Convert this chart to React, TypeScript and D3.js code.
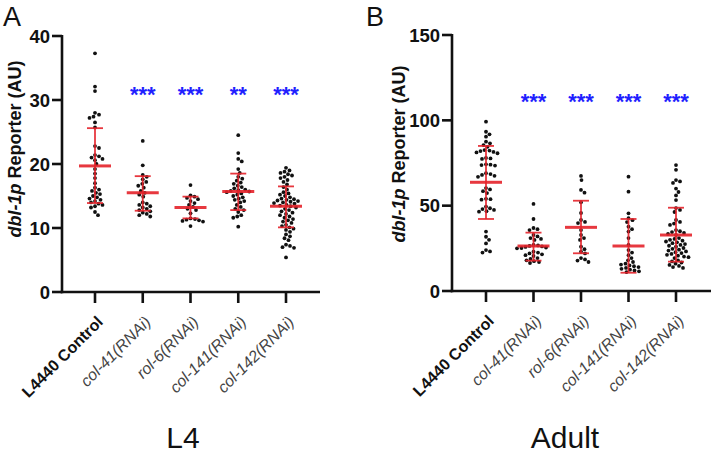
import React from 'react';
import * as d3 from 'd3';

const categories = ['L4440 Control', 'col-41(RNAi)', 'rol-6(RNAi)', 'col-141(RNAi)', 'col-142(RNAi)'];

// L4 panel values (AU)
const l4Control = [37.3, 32.1, 31.4, 28.0, 27.7, 27.4, 27.2, 26.5, 25.7, 22.8, 22.5, 21.4, 21.2, 21.0, 20.8, 20.6, 20.0, 19.2, 18.5, 17.8, 17.0, 16.3, 16.0, 15.8, 15.5, 15.3, 15.0, 14.8, 14.6, 14.4, 14.2, 14.0, 13.8, 13.6, 13.4, 13.2, 12.5, 12.0];
const l4Col41 = [23.6, 19.8, 18.3, 18.0, 17.6, 17.2, 16.9, 16.6, 16.3, 15.8, 15.5, 15.2, 14.9, 14.0, 13.8, 13.6, 13.4, 13.2, 13.0, 12.8, 12.6, 12.4, 12.2, 12.0, 11.8];
const l4Rol6 = [16.7, 15.1, 14.9, 14.7, 14.5, 14.2, 13.9, 13.6, 13.3, 13.0, 12.8, 12.3, 11.5, 11.4, 11.3, 11.2, 11.1, 11.0, 10.3];
const l4Col141 = [24.5, 21.7, 20.8, 20.4, 19.2, 18.6, 18.0, 17.7, 17.4, 17.1, 16.9, 16.6, 16.4, 16.2, 16.0, 15.9, 15.8, 15.7, 15.6, 15.4, 15.2, 15.0, 14.8, 14.6, 14.4, 14.2, 14.0, 13.6, 13.3, 13.0, 12.8, 12.5, 12.0, 11.8, 11.6, 10.2];
const l4Col142 = [19.4, 19.0, 18.8, 18.6, 18.4, 18.2, 18.0, 17.8, 17.5, 17.2, 16.8, 16.4, 16.0, 15.6, 15.4, 15.2, 15.0, 14.8, 14.6, 14.5, 14.4, 14.3, 14.2, 14.1, 14.0, 13.9, 13.8, 13.6, 13.5, 13.4, 13.2, 13.0, 12.8, 12.6, 12.4, 12.2, 12.0, 11.8, 11.6, 11.4, 11.2, 11.0, 10.8, 10.5, 10.3, 10.1, 9.9, 9.7, 9.4, 9.0, 8.7, 8.4, 8.1, 7.4, 7.2, 7.0, 6.9, 5.4];
const l4Means = [19.7, 15.5, 13.2, 15.7, 13.4];
const l4SdHigh = [25.6, 18.1, 14.9, 18.5, 16.5];
const l4SdLow = [13.9, 12.7, 11.5, 12.8, 10.1];
const l4Stars = ['', '***', '***', '**', '***'];
const l4Ticks = [0, 10, 20, 30, 40];

// Adult panel values (AU)
const adultControl = [99.2, 93.3, 91.8, 90.4, 87.5, 86.5, 85.5, 84.5, 82.6, 82.3, 82.0, 81.5, 81.2, 80.7, 78.0, 77.7, 77.4, 74.2, 74.0, 73.8, 73.5, 69.0, 68.5, 68.0, 67.5, 66.9, 60.3, 59.5, 58.5, 57.4, 54.0, 53.8, 53.5, 49.4, 48.5, 48.0, 47.5, 46.8, 46.5, 34.8, 31.8, 30.0, 27.9, 24.0, 23.2, 22.5];
const adultCol41 = [51.0, 42.2, 36.9, 36.2, 35.7, 32.8, 32.0, 31.0, 30.5, 29.9, 27.0, 26.7, 26.4, 26.1, 25.8, 25.5, 25.2, 25.0, 23.0, 22.5, 22.0, 21.5, 21.0, 20.5, 19.3, 18.8, 18.0, 17.5, 17.0, 16.4];
const adultRol6 = [67.4, 65.0, 59.2, 57.6, 52.0, 45.7, 41.6, 40.5, 39.8, 35.7, 32.8, 31.0, 29.9, 26.0, 24.5, 23.0, 22.0, 19.3, 18.5, 17.8, 17.0];
const adultCol141 = [67.0, 58.2, 45.5, 42.7, 41.5, 40.4, 37.7, 36.2, 34.8, 31.0, 27.0, 24.0, 22.5, 21.0, 19.3, 18.0, 17.0, 16.0, 15.5, 15.0, 14.5, 14.0, 13.5, 13.0, 12.5, 12.0, 11.5, 11.1];
const adultCol142 = [73.8, 71.0, 65.0, 64.2, 63.3, 60.0, 58.0, 56.0, 53.3, 48.6, 47.5, 46.3, 41.6, 40.5, 39.5, 38.7, 35.7, 35.0, 34.5, 34.0, 33.4, 32.8, 31.0, 30.5, 30.0, 29.5, 29.0, 28.5, 28.0, 27.5, 27.0, 26.5, 26.0, 25.2, 24.7, 24.2, 23.7, 23.2, 22.7, 22.2, 21.7, 21.2, 20.7, 20.2, 19.8, 19.3, 18.0, 17.3, 16.7, 16.0, 15.3, 14.7, 14.0, 13.5];
const adultMeans = [63.7, 26.4, 37.3, 26.4, 32.8];
const adultSdHigh = [85.0, 34.2, 52.9, 42.2, 48.8];
const adultSdLow = [42.2, 17.8, 22.1, 10.7, 17.2];
const adultStars = ['', '***', '***', '***', '***'];
const adultTicks = [0, 50, 100, 150];

const FONT = '"Liberation Sans", Arial, Helvetica, sans-serif';
const RED = '#e4222a';
const BLUE = '#1f1fff';

function swarm(values: number[], y: (v: number) => number, r: number, gap: number) {
  const pts = values.map((v) => ({ v, py: y(v), dx: 0 })).sort((a, b) => a.py - b.py);
  const d = 2 * r + gap;
  const placed: { py: number; dx: number }[] = [];
  for (const p of pts) {
    let chosen = 0;
    for (let k = 0; k < 400; k++) {
      const step = Math.ceil(k / 2) * 0.5;
      const off = k % 2 === 1 ? step : -step;
      const ok = placed.every((q) => {
        const ddx = q.dx - off;
        const ddy = q.py - p.py;
        return ddx * ddx + ddy * ddy >= d * d;
      });
      if (ok) {
        chosen = off;
        break;
      }
    }
    p.dx = chosen;
    placed.push({ py: p.py, dx: chosen });
  }
  return pts;
}

type PanelProps = {
  letter: string;
  letterX: number;
  title: string;
  titleX: number;
  axisX: number;
  axisEnd: number;
  yTop: number;
  yBottom: number;
  maxV: number;
  ticks: number[];
  xRange: [number, number];
  groups: number[][];
  means: number[];
  sdHigh: number[];
  sdLow: number[];
  stars: string[];
  starY: number;
  yTitleX: number;
  yTitleY: number;
};

function Panel(p: PanelProps) {
  const y = d3.scaleLinear().domain([0, p.maxV]).range([p.yBottom, p.yTop]);
  const x = d3.scalePoint<string>().domain(categories).range(p.xRange);
  const axisW = 2.6;
  return (
    <g>
      <text x={p.letterX} y={26} fontFamily={FONT} fontSize={27} fill="#111">{p.letter}</text>
      {/* y-axis title */}
      <text
        transform={`translate(${p.yTitleX},${p.yTitleY}) rotate(-90)`}
        textAnchor="middle"
        fontFamily={FONT}
        fontSize={18}
        fontWeight="bold"
        fill="#111"
      >
        <tspan fontStyle="italic">dbl-1p</tspan>
        <tspan> Reporter (AU)</tspan>
      </text>
      {/* points */}
      {p.groups.map((vals, i) => {
        const cx = x(categories[i]) as number;
        return swarm(vals, y, 1.9, 0.3).map((pt, j) => (
          <circle key={`${i}-${j}`} cx={cx + pt.dx} cy={pt.py} r={1.9} fill="#111" />
        ));
      })}
      {/* mean & SD */}
      {categories.map((c, i) => {
        const cx = x(c) as number;
        return (
          <g key={c} stroke={RED} strokeOpacity={0.9}>
            <line x1={cx} x2={cx} y1={y(p.sdLow[i])} y2={y(p.sdHigh[i])} strokeWidth={1.8} />
            <line x1={cx - 8} x2={cx + 8} y1={y(p.sdLow[i])} y2={y(p.sdLow[i])} strokeWidth={1.8} />
            <line x1={cx - 8} x2={cx + 8} y1={y(p.sdHigh[i])} y2={y(p.sdHigh[i])} strokeWidth={1.8} />
            <line x1={cx - 16} x2={cx + 16} y1={y(p.means[i])} y2={y(p.means[i])} strokeWidth={3} />
          </g>
        );
      })}
      {/* stars */}
      {categories.map((c, i) => (
        <text
          key={`s${c}`}
          x={x(c) as number}
          y={p.starY}
          textAnchor="middle"
          fontFamily={FONT}
          fontWeight="bold"
          fontSize={22}
          fill={BLUE}
        >
          {p.stars[i]}
        </text>
      ))}
      {/* y axis */}
      <line x1={p.axisX} x2={p.axisX} y1={p.yTop - 1} y2={p.yBottom + axisW / 2} stroke="#111" strokeWidth={axisW} />
      {p.ticks.map((t) => (
        <g key={`t${t}`}>
          <line x1={p.axisX - 10} x2={p.axisX} y1={y(t)} y2={y(t)} stroke="#111" strokeWidth={axisW} />
          <text
            x={p.axisX - 12}
            y={y(t)}
            dy="0.36em"
            textAnchor="end"
            fontFamily={FONT}
            fontWeight="bold"
            fontSize={18.5}
            fill="#111"
          >
            {t}
          </text>
        </g>
      ))}
      {/* x axis */}
      <line x1={p.axisX - axisW / 2} x2={p.axisEnd} y1={p.yBottom} y2={p.yBottom} stroke="#111" strokeWidth={axisW} />
      {categories.map((c, i) => {
        const cx = x(c) as number;
        return (
          <g key={`x${c}`}>
            <line x1={cx} x2={cx} y1={p.yBottom} y2={p.yBottom + 11} stroke="#111" strokeWidth={axisW} />
            <text
              transform={`translate(${cx + 5},${p.yBottom + 27}) rotate(-45)`}
              textAnchor="end"
              dy="0.35em"
              fontFamily={FONT}
              fontSize={16}
              fontWeight={i === 0 ? 'bold' : 'normal'}
              fontStyle={i === 0 ? 'normal' : 'italic'}
              fill={i === 0 ? '#111' : '#444'}
            >
              {c}
            </text>
          </g>
        );
      })}
      <text x={p.titleX} y={448} textAnchor="middle" fontFamily={FONT} fontSize={30} fill="#111">
        {p.title}
      </text>
    </g>
  );
}

export default function App() {
  return (
    <svg
      width={712}
      height={455}
      style={{ position: 'absolute', left: 0, top: 0, background: '#fff' }}
    >
      <rect width={712} height={455} fill="#fff" />
      <Panel
        letter="A"
        letterX={3}
        title="L4"
        titleX={183}
        axisX={62}
        axisEnd={320}
        yTop={36}
        yBottom={292}
        maxV={40}
        ticks={l4Ticks}
        xRange={[95, 286]}
        groups={[l4Control, l4Col41, l4Rol6, l4Col141, l4Col142]}
        means={l4Means}
        sdHigh={l4SdHigh}
        sdLow={l4SdLow}
        stars={l4Stars}
        starY={102}
        yTitleX={21}
        yTitleY={149}
      />
      <Panel
        letter="B"
        letterX={366}
        title="Adult"
        titleX={565}
        axisX={452}
        axisEnd={711}
        yTop={35}
        yBottom={291}
        maxV={150}
        ticks={adultTicks}
        xRange={[486, 676]}
        groups={[adultControl, adultCol41, adultRol6, adultCol141, adultCol142]}
        means={adultMeans}
        sdHigh={adultSdHigh}
        sdLow={adultSdLow}
        stars={adultStars}
        starY={109}
        yTitleX={405}
        yTitleY={154}
      />
    </svg>
  );
}
